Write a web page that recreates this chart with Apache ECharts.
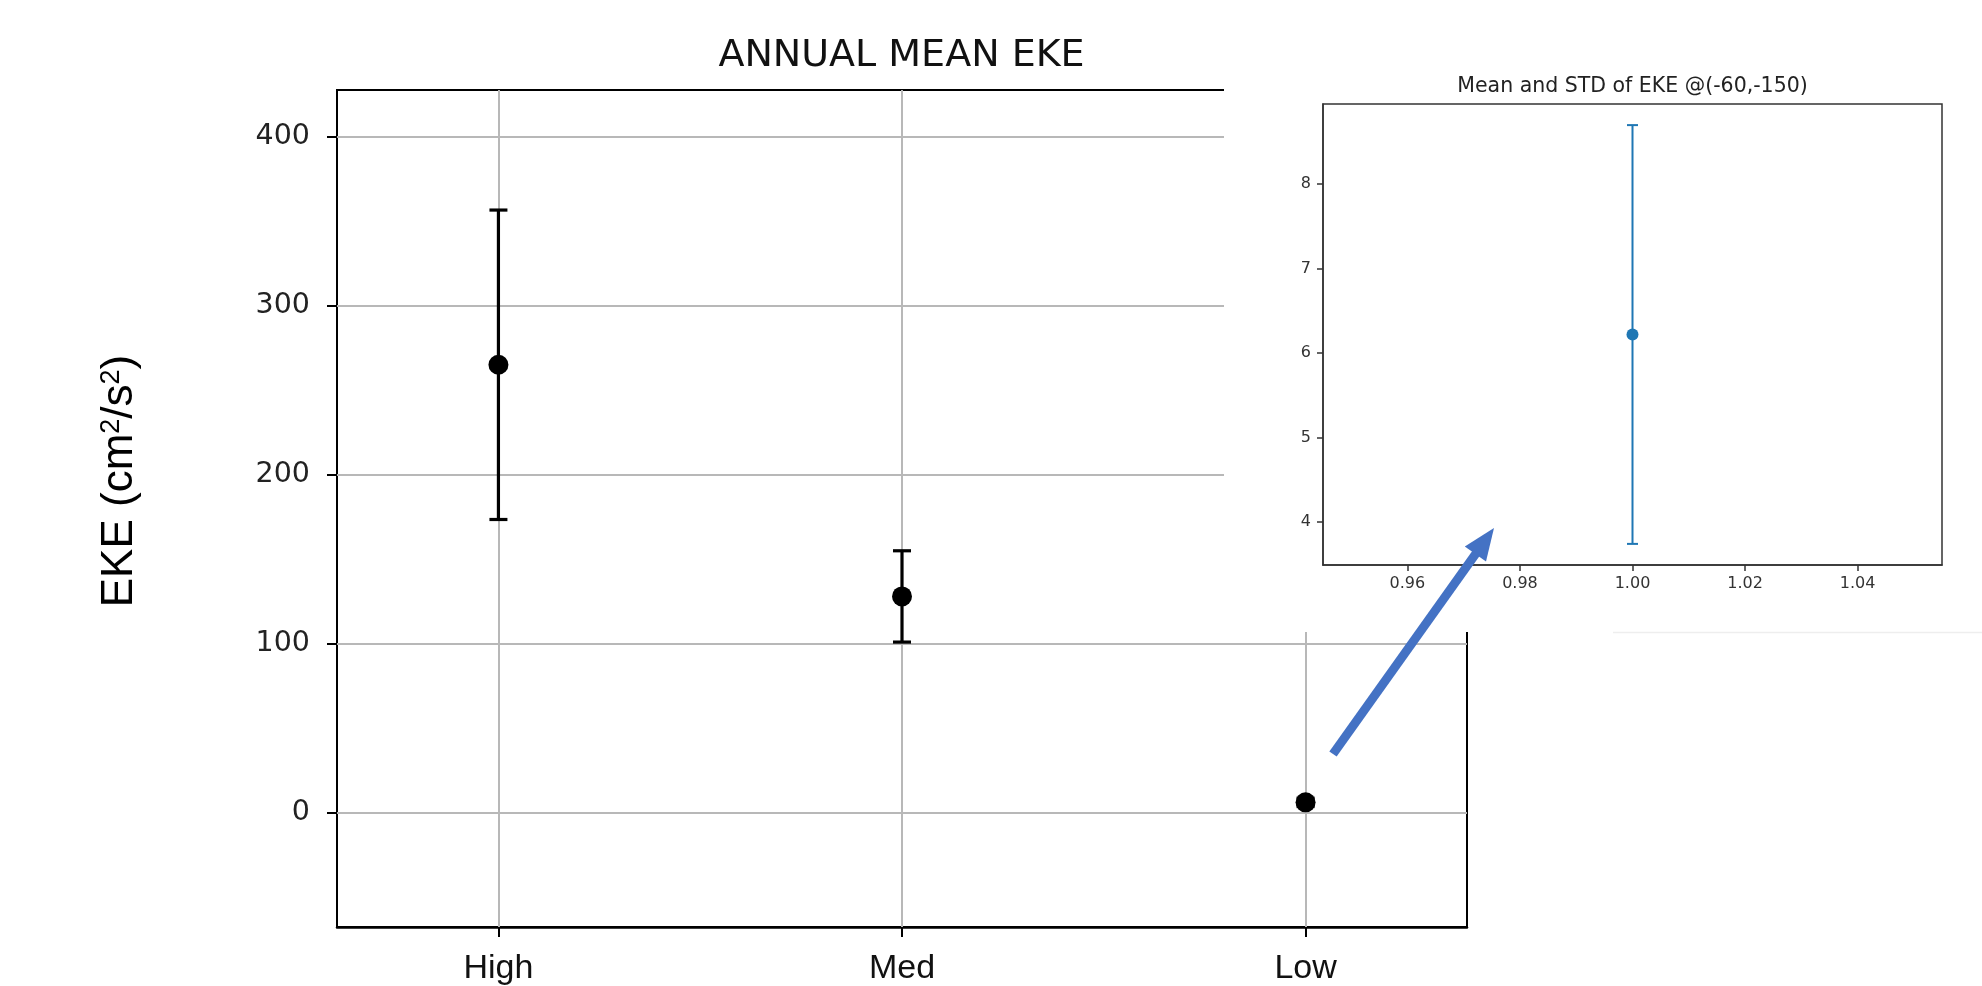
<!DOCTYPE html>
<html>
<head>
<meta charset="utf-8">
<script src="https://cdn.jsdelivr.net/npm/echarts@6/dist/echarts.min.js"></script>
<style>
  html, body { margin: 0; padding: 0; background: #fff; width: 1982px; height: 986px; overflow: hidden; }
  #chart { width: 1982px; height: 986px; }
</style>
</head>
<body>
<div id="chart"></div>
<script>
// Annual mean eddy kinetic energy per region class (cm^2/s^2)
const categories = ['High', 'Med', 'Low'];
const meanEKE = [265, 128, 6.22];
const stdEKE = [91.5, 27, 2.48];
const mainYTicks = [0, 100, 200, 300, 400];

// Close-up panel for the low-EKE site at (-60,-150)
const insetIndex = 2;
const insetX = [1.0];
const insetXTicks = [0.96, 0.98, 1.00, 1.02, 1.04];
const insetYTicks = [4, 5, 6, 7, 8];

const chart = echarts.init(document.getElementById('chart'), null, { renderer: 'canvas', width: 1982, height: 986 });

// vertical bar with caps from api-mapped coordinates
function errorBar(color, lineWidth, capHalf) {
  return function (params, api) {
    const x = api.value(0);
    const lo = api.coord([x, api.value(1)]);
    const hi = api.coord([x, api.value(2)]);
    const style = { stroke: color, lineWidth: lineWidth, fill: null };
    return {
      type: 'group',
      children: [
        { type: 'line', shape: { x1: lo[0], y1: lo[1], x2: hi[0], y2: hi[1] }, style: style },
        { type: 'line', shape: { x1: lo[0] - capHalf, y1: lo[1], x2: lo[0] + capHalf, y2: lo[1] }, style: style },
        { type: 'line', shape: { x1: hi[0] - capHalf, y1: hi[1], x2: hi[0] + capHalf, y2: hi[1] }, style: style }
      ]
    };
  };
}

const mainBars = categories.map((c, i) => [i, meanEKE[i] - stdEKE[i], meanEKE[i] + stdEKE[i]]);
const mainPoints = categories.map((c, i) => [i, meanEKE[i]]);
const insetBars = insetX.map(x => [x, meanEKE[insetIndex] - stdEKE[insetIndex], meanEKE[insetIndex] + stdEKE[insetIndex]]);
const insetPoints = insetX.map(x => [x, meanEKE[insetIndex]]);

// grid lines of the main panel: one per y tick and one per category
const gridLines = mainYTicks.map(v => ({ yAxis: v })).concat(categories.map((c, i) => ({ xAxis: i })));

const gridGray = '#b8b8b8';
const insetInk = '#333333';
const blue = '#1f77b4';
const arrowBlue = '#4472c4';

const option = {
  animation: false,
  backgroundColor: '#ffffff',
  title: [
    {
      text: 'ANNUAL MEAN EKE',
      left: 901.5, top: 56, padding: 0,
      textAlign: 'center', textVerticalAlign: 'middle',
      textStyle: { fontFamily: 'DejaVu Sans', fontSize: 38, fontWeight: 'normal', color: '#111' }
    },
    {
      text: 'Mean and STD of EKE @(-60,-150)',
      left: 1632.5, top: 87, padding: 0, zlevel: 2,
      textAlign: 'center', textVerticalAlign: 'middle',
      textStyle: { fontFamily: 'DejaVu Sans', fontSize: 20.5, fontWeight: 'normal', color: '#222' }
    }
  ],
  grid: [
    { left: 337, top: 90, width: 1130, height: 843, show: true, borderColor: '#000', borderWidth: 2, backgroundColor: 'transparent', containLabel: false },
    { left: 1323, top: 104, width: 619, height: 461, show: true, borderColor: insetInk, borderWidth: 1.5, backgroundColor: 'transparent', containLabel: false, zlevel: 2 }
  ],
  xAxis: [
    {
      gridIndex: 0, type: 'value', min: -0.4, max: 2.4,
      axisLine: { show: true, onZero: false, lineStyle: { color: '#000', width: 2.5 } },
      axisTick: { show: true, length: 10, customValues: [0, 1, 2], lineStyle: { color: '#000', width: 2 } },
      axisLabel: {
        customValues: [0, 1, 2],
        formatter: v => categories[Math.round(v)],
        fontFamily: 'Liberation Sans', fontSize: 34, color: '#111', margin: 25
      },
      splitLine: { show: false }
    },
    {
      gridIndex: 1, type: 'value', min: 0.945, max: 1.055, zlevel: 2,
      axisLine: { show: true, onZero: false, lineStyle: { color: insetInk, width: 1.5 } },
      axisTick: { show: true, length: 6, customValues: insetXTicks, lineStyle: { color: insetInk, width: 1.5 } },
      axisLabel: {
        customValues: insetXTicks,
        formatter: v => v.toFixed(2),
        fontFamily: 'DejaVu Sans', fontSize: 16, color: insetInk, margin: 11
      },
      splitLine: { show: false }
    }
  ],
  yAxis: [
    {
      gridIndex: 0, type: 'value', min: -67.5, max: 427.5,
      axisLine: { show: true, onZero: false, lineStyle: { color: '#000', width: 2 } },
      axisTick: { show: true, length: 10, customValues: mainYTicks, lineStyle: { color: '#000', width: 2 } },
      axisLabel: { customValues: mainYTicks, fontFamily: 'DejaVu Sans', fontSize: 28.5, color: '#222', margin: 27 },
      splitLine: { show: false }
    },
    {
      gridIndex: 1, type: 'value', min: 3.49, max: 8.95, zlevel: 2,
      axisLine: { show: true, onZero: false, lineStyle: { color: insetInk, width: 1.5 } },
      axisTick: { show: true, length: 6, customValues: insetYTicks, lineStyle: { color: insetInk, width: 1.5 } },
      axisLabel: { customValues: insetYTicks, fontFamily: 'DejaVu Sans', fontSize: 16, color: insetInk, margin: 12 },
      splitLine: { show: false }
    }
  ],
  series: [
    {
      type: 'custom', xAxisIndex: 0, yAxisIndex: 0, z: 3,
      renderItem: errorBar('#000', 3.2, 9),
      encode: { x: 0, y: [1, 2] },
      data: mainBars
    },
    {
      type: 'scatter', xAxisIndex: 0, yAxisIndex: 0, z: 4,
      symbol: 'circle', symbolSize: 20,
      itemStyle: { color: '#000', opacity: 1 },
      data: mainPoints,
      markLine: {
        silent: true, z: 1, symbol: 'none',
        label: { show: false },
        lineStyle: { color: gridGray, width: 2, type: 'solid' },
        emphasis: { disabled: true },
        data: gridLines
      }
    },
    {
      type: 'custom', xAxisIndex: 1, yAxisIndex: 1, zlevel: 2, z: 3,
      renderItem: errorBar(blue, 2, 5.5),
      encode: { x: 0, y: [1, 2] },
      data: insetBars
    },
    {
      type: 'scatter', xAxisIndex: 1, yAxisIndex: 1, zlevel: 2, z: 4,
      symbol: 'circle', symbolSize: 12,
      itemStyle: { color: blue, opacity: 1 },
      data: insetPoints
    }
  ],
  graphic: [
    {
      type: 'text', x: 120, y: 481, rotation: Math.PI / 2,
      style: {
        text: 'EKE (cm{s|2}/s{s|2})',
        fontFamily: 'Liberation Sans', fontSize: 44, fill: '#000',
        align: 'center', verticalAlign: 'middle',
        rich: { s: { fontFamily: 'Liberation Sans', fontSize: 27, fill: '#000', verticalAlign: 'top' } }
      }
    },
    {
      // panel backdrop for the close-up
      type: 'rect', zlevel: 1,
      shape: { x: 1224, y: 0, width: 758, height: 632 },
      style: { fill: '#fff' }
    },
    {
      type: 'line', zlevel: 1,
      shape: { x1: 1613, y1: 632.5, x2: 1982, y2: 632.5 },
      style: { stroke: '#eeeeee', lineWidth: 1.5 }
    },
    {
      // pointer from the Low point to the close-up: shaft
      type: 'line', zlevel: 3,
      shape: { x1: 1333, y1: 754, x2: 1477, y2: 552 },
      style: { stroke: arrowBlue, lineWidth: 9, lineCap: 'butt' }
    },
    {
      // pointer head
      type: 'polygon', zlevel: 3,
      shape: { points: [[1494, 528], [1486, 561.5], [1464.8, 546.5]] },
      style: { fill: arrowBlue }
    }
  ]
};

chart.setOption(option);
</script>
</body>
</html>
